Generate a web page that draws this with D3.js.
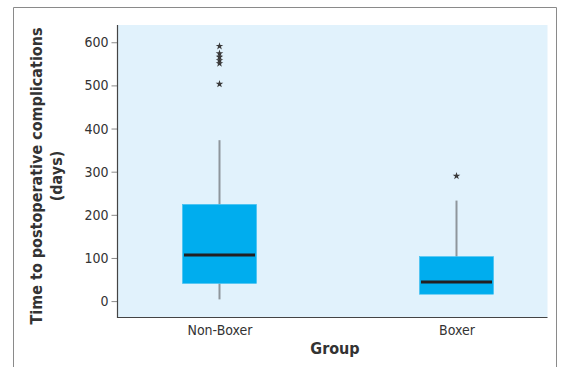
<!DOCTYPE html>
<html><head><meta charset="utf-8">
<script src="https://cdn.jsdelivr.net/npm/d3@7"></script>
<style>
html,body{margin:0;padding:0;background:#fff;}
text{font-family:"Liberation Sans Narrow","DejaVu Sans Condensed","Arial Narrow",sans-serif;}
</style></head>
<body>
<svg id="c" width="563" height="367"></svg>
<script>
const groups = ["Non-Boxer", "Boxer"];
const q1 = [41, 16];
const median = [107, 44];
const q3 = [224, 103];
const whiskerLow = [4, 16];
const whiskerHigh = [373, 233];
const outliers = [[591, 574, 566, 558, 551, 503], [290]];
const yTicks = [0, 100, 200, 300, 400, 500, 600];

const svg = d3.select("#c");
const L = 117.5, R = 547.5, T = 25, B = 317.5;

// outer frame
svg.append("path").attr("d", "M13.5,367V7.5H556.5V367")
  .attr("fill", "none").attr("stroke", "#8a8a8a").attr("stroke-width", 1);

// plot background
svg.append("rect").attr("x", L).attr("y", T).attr("width", R - L).attr("height", B - T)
  .attr("fill", "#e1f2fc");

const y = d3.scaleLinear().domain([-38, 640]).range([B, T]);
const x = d3.scalePoint().domain(groups).range([219.5, 456.5]);
const boxW = 74;

const data = groups.map((g, i) => ({g, q1: q1[i], med: median[i], q3: q3[i], lo: whiskerLow[i], hi: whiskerHigh[i], out: outliers[i]}));

const gb = svg.append("g");
data.forEach(d => {
  const cx = x(d.g);
  gb.append("line").attr("x1", cx).attr("x2", cx).attr("y1", y(d.q3)).attr("y2", y(d.hi))
    .attr("stroke", "#8e969c").attr("stroke-width", 2);
  gb.append("line").attr("x1", cx).attr("x2", cx).attr("y1", y(d.q1)).attr("y2", y(d.lo))
    .attr("stroke", "#8e969c").attr("stroke-width", 2);
  gb.append("rect").attr("x", cx - boxW / 2).attr("y", y(d.q3)).attr("width", boxW)
    .attr("height", y(d.q1) - y(d.q3)).attr("fill", "#00adee").attr("stroke", "#3cbff0").attr("stroke-width", 0.6);
  gb.append("line").attr("x1", cx - boxW / 2 + 1.5).attr("x2", cx + boxW / 2 - 1.5)
    .attr("y1", y(d.med)).attr("y2", y(d.med)).attr("stroke", "#231f20").attr("stroke-width", 3);
  d.out.forEach(v => {
    gb.append("path").attr("d", d3.symbol(d3.symbolStar, 18)())
      .attr("transform", `translate(${cx},${y(v)})`).attr("fill", "#3a3a3a");
  });
});

const yAxis = d3.axisLeft(y).tickValues(yTicks).tickSize(6).tickPadding(3);
const ya = svg.append("g").attr("transform", `translate(${L},0)`).call(yAxis);
ya.select(".domain").remove();
ya.selectAll(".tick line").attr("stroke", "#8a8a8a");
ya.selectAll(".tick text").attr("fill", "#333").style("font-size", "14px");

svg.append("path").attr("d", `M${L},${T}V${B}H${R}`).attr("fill", "none")
  .attr("stroke", "#444").attr("stroke-width", 1.2);

const xa = svg.append("g").attr("transform", `translate(0,${B})`)
  .call(d3.axisBottom(x).tickSize(0).tickPadding(8));
xa.select(".domain").remove();
xa.selectAll(".tick text").attr("fill", "#333").style("font-size", "14px");

svg.append("text").attr("x", 335).attr("y", 354).attr("text-anchor", "middle")
  .attr("fill", "#333").style("font-size", "16px").style("font-weight", "bold").text("Group");

svg.append("text").attr("transform", "translate(42,176) rotate(-90)").attr("text-anchor", "middle")
  .attr("fill", "#333").style("font-size", "16px").style("font-weight", "bold")
  .text("Time to postoperative complications");
svg.append("text").attr("transform", "translate(62,176) rotate(-90)").attr("text-anchor", "middle")
  .attr("fill", "#333").style("font-size", "16px").style("font-weight", "bold")
  .text("(days)");
</script>
</body></html>
